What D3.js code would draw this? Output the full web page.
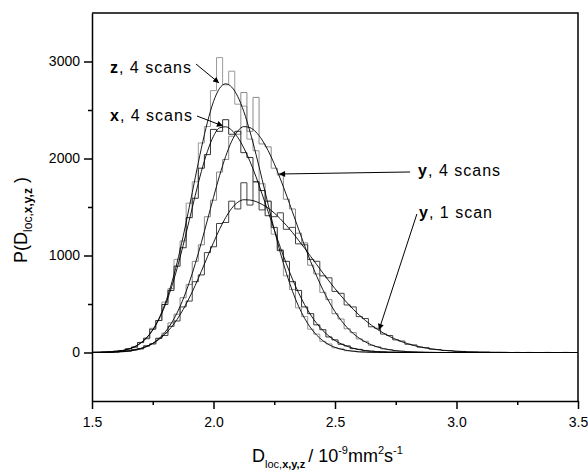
<!DOCTYPE html>
<html>
<head>
<meta charset="utf-8">
<script src="https://cdn.jsdelivr.net/npm/d3@7"></script>
<style>
  body { margin: 0; background: #fff; }
  svg text { font-family: "Liberation Sans", Arial, sans-serif; fill: #000; }
</style>
</head>
<body>
<div id="chart"></div>
<script>
// bins: 1.500, 1.525, ... 3.500
const binStart = 1.5, binWidth = 0.025;

// fitted curves
const zFit = [1,1,3,6,11,19,34,58,96,152,234,348,499,691,925,1196,1494,1804,2106,2374,2587,2723,2770,2736,2638,2482,2279,2042,1785,1523,1268,1030,817,632,477,352,253,178,122,81,53,34,21,13,7,4,2,1,
  0,0,0,0,0,0,0,0,0,0,0,0,0,0,0,0,0,0,0,0,0,0,0,0,0,0,0,0,0,0,0,0,0];
const xFit = [1,2,3,6,12,21,36,60,98,153,232,339,480,656,866,1104,1361,1621,1866,2074,2230,2316,2327,2291,2217,2108,1971,1811,1634,1450,1265,1084,914,756,616,493,387,299,227,169,124,90,64,44,30,20,13,9,6,4,2,1,
  0,0,0,0,0,0,0,0,0,0,0,0,0,0,0,0,0,0,0,0,0,0,0,0,0,0,0,0,0];
const y4Fit = [0,1,1,2,5,8,14,23,38,61,94,142,207,295,408,549,719,916,1134,1366,1600,1824,2021,2179,2284,2329,2318,2272,2191,2081,1946,1791,1624,1449,1272,1100,937,785,648,526,421,332,257,196,147,109,79,57,40,28,19,13,9,6,4,2,1,
  0,0,0,0,0,0,0,0,0,0,0,0,0,0,0,0,0,0,0,0,0,0,0,0];
const y1Fit = [1,1,2,4,7,11,18,28,43,64,94,134,188,256,341,443,561,693,837,986,1133,1271,1391,1486,1549,1575,1572,1556,1527,1488,1438,1378,1311,1237,1157,1075,990,905,820,738,658,583,512,446,385,330,281,237,199,165,136,111,90,72,58,46,36,28,22,17,13,10,7,5,4,3,2,1,1,
  0,0,0,0,0,0,0,0,0,0,0,0];

// histograms
const zHist = [0,2,4,5,14,16,40,52,104,140,250,330,520,660,960,1150,1540,1760,2160,2330,2700,3040,2760,2900,2560,2540,2200,2080,1740,1560,1220,1060,790,650,460,370,240,190,115,88,48,38,18,15,6,5,1,2,
  0,1,0,0,1,0,0,0,1,0,0,0,0,0,1,0,0,0,0,0,0,0,0,0,0,0,0,0,0,0,0,0,0];
const xHist = [1,1,4,5,13,19,38,57,102,148,240,330,495,640,890,1080,1390,1590,1900,2040,2300,2280,2400,2250,2280,2060,2010,1760,1670,1410,1290,1050,940,730,640,470,400,285,235,160,130,85,68,40,32,18,14,8,7,3,3,1,
  0,0,1,0,0,0,0,0,0,0,0,0,0,0,0,0,0,0,0,0,0,0,0,0,0,0,0,0,0];
const y4Hist = [0,1,1,3,4,9,12,25,35,64,90,148,200,305,395,565,700,940,1110,1400,1570,1860,1990,2230,2250,2680,2280,2630,2150,2120,1900,1830,1580,1480,1230,1130,900,810,620,545,400,345,245,205,140,115,74,60,37,30,17,14,8,7,3,3,1,
  1,0,0,1,0,0,0,1,0,0,0,0,0,0,0,0,0,0,0,0,0,0,0,0];
const y1Hist = [2,0,3,5,6,14,16,32,40,70,88,145,175,270,325,470,530,730,800,1030,1090,1330,1340,1560,1480,1750,1520,1760,1470,1560,1400,1440,1270,1290,1120,1110,960,940,790,770,630,610,490,470,370,350,265,250,190,175,130,118,85,78,55,50,34,30,20,19,12,11,6,6,3,4,1,2,1,
  0,1,0,1,0,0,1,0,0,1,0,0];

// annotations (data units)
const labelText = ["z", "x", "y", "y"];
const labelRest = [", 4 scans", ", 4 scans", ", 4 scans", ", 1 scan"];
const labelAt = [[1.574, 2881], [1.574, 2387], [2.842, 1820], [2.846, 1387]];
const arrowFrom = [[1.928, 2974], [1.932, 2438], [2.809, 1861], [2.837, 1428]];
const arrowTo = [[2.023, 2778], [2.039, 2335], [2.270, 1840], [2.681, 232]];

const xTicks = [1.5, 2.0, 2.5, 3.0, 3.5];
const xMinor = [1.75, 2.25, 2.75, 3.25];
const yTicks = [0, 1000, 2000, 3000];
const yMinor = [500, 1500, 2500];

const width = 588, height = 472;
const margin = {left: 92, right: 10, top: 13, bottom: 71};

const x = d3.scaleLinear().domain([1.5, 3.5]).range([margin.left, width - margin.right]);
const y = d3.scaleLinear().domain([-500, 3500]).range([height - margin.bottom, margin.top]);

const svg = d3.select("#chart").append("svg")
  .attr("width", width).attr("height", height);

svg.append("defs").append("clipPath").attr("id", "clip")
  .append("rect")
  .attr("x", x(1.5)).attr("y", y(3500))
  .attr("width", x(3.5) - x(1.5)).attr("height", y(-500) - y(3500));

svg.select("defs").append("marker")
  .attr("id", "head")
  .attr("markerUnits", "userSpaceOnUse")
  .attr("viewBox", "0 0 10 10")
  .attr("refX", 10).attr("refY", 5)
  .attr("markerWidth", 8).attr("markerHeight", 6)
  .attr("orient", "auto")
  .append("path").attr("d", "M0,0L10,5L0,10Z").attr("fill", "#000");

const toPoints = arr => arr.map((v, i) => [binStart + i * binWidth, v]);

const plot = svg.append("g").attr("clip-path", "url(#clip)");

const stepLine = d3.line().x(d => x(d[0])).y(d => y(d[1])).curve(d3.curveStep);
const fitLine = d3.line().x(d => x(d[0])).y(d => y(d[1])).curve(d3.curveMonotoneX);

const hists = [[zHist, "#9a9a9a"], [y4Hist, "#8a8a8a"], [xHist, "#333"], [y1Hist, "#444"]];
hists.forEach(h => {
  plot.append("path")
    .datum(toPoints(h[0]))
    .attr("d", stepLine)
    .attr("fill", "none")
    .attr("stroke", h[1])
    .attr("stroke-width", 1);
});

[zFit, xFit, y4Fit, y1Fit].forEach(f => {
  plot.append("path")
    .datum(toPoints(f))
    .attr("d", fitLine)
    .attr("fill", "none")
    .attr("stroke", "#000")
    .attr("stroke-width", 0.9);
});

// frame
svg.append("path")
  .attr("d", `M${x(1.5)},${y(3500)}H${x(3.5)}V${y(-500)}`)
  .attr("fill", "none").attr("stroke", "#000").attr("stroke-width", 1.5);

// axes
svg.append("g")
  .attr("transform", `translate(0,${y(-500)})`)
  .call(d3.axisBottom(x).tickValues(xTicks).tickFormat(d3.format(".1f")).tickSize(8).tickSizeOuter(0).tickPadding(8));
svg.append("g")
  .attr("transform", `translate(0,${y(-500)})`)
  .call(d3.axisBottom(x).tickValues(xMinor).tickFormat("").tickSize(4).tickSizeOuter(0))
  .select(".domain").remove();

svg.append("g")
  .attr("transform", `translate(${x(1.5)},0)`)
  .call(d3.axisLeft(y).tickValues(yTicks).tickFormat(d3.format("d")).tickSize(8).tickSizeOuter(0).tickPadding(4));
svg.append("g")
  .attr("transform", `translate(${x(1.5)},0)`)
  .call(d3.axisLeft(y).tickValues(yMinor).tickFormat("").tickSize(4).tickSizeOuter(0))
  .select(".domain").remove();

svg.selectAll(".domain, .tick line").attr("stroke", "#000").attr("stroke-width", 1.5);
svg.selectAll(".tick text").attr("font-size", 14).attr("font-family", "'Liberation Sans', Arial, sans-serif");

// series labels and arrows
labelAt.forEach((p, i) => {
  const t = svg.append("text")
    .attr("x", x(p[0])).attr("y", y(p[1]))
    .attr("font-size", 16)
    .attr("letter-spacing", 1);
  t.append("tspan").attr("font-weight", "bold").text(labelText[i]);
  t.append("tspan").text(labelRest[i]);

  svg.append("line")
    .attr("x1", x(arrowFrom[i][0])).attr("y1", y(arrowFrom[i][1]))
    .attr("x2", x(arrowTo[i][0])).attr("y2", y(arrowTo[i][1]))
    .attr("stroke", "#000").attr("stroke-width", 1)
    .attr("marker-end", "url(#head)");
});

// y axis title
const yt = svg.append("text")
  .attr("transform", "translate(27,220) rotate(-90)")
  .attr("text-anchor", "middle")
  .attr("font-size", 18);
yt.append("tspan").text("P(D");
yt.append("tspan").attr("font-size", 12).attr("dy", 5).text("loc,");
yt.append("tspan").attr("font-size", 12).attr("font-weight", "bold").text("x,y,z");
yt.append("tspan").attr("dy", -5).text(" )");

// x axis title
const xt = svg.append("text")
  .attr("x", 252).attr("y", 462)
  .attr("font-size", 18);
xt.append("tspan").text("D");
xt.append("tspan").attr("font-size", 11).attr("dy", 6).text("loc,");
xt.append("tspan").attr("font-size", 11).attr("font-weight", "bold").text("x,y,z");
xt.append("tspan").attr("dy", -6).attr("dx", 3).text("/ 10");
xt.append("tspan").attr("font-size", 11).attr("dy", -8).text("-9");
xt.append("tspan").attr("dy", 8).text("mm");
xt.append("tspan").attr("font-size", 11).attr("dy", -8).text("2");
xt.append("tspan").attr("dy", 8).text("s");
xt.append("tspan").attr("font-size", 11).attr("dy", -8).text("-1");
</script>
</body>
</html>
